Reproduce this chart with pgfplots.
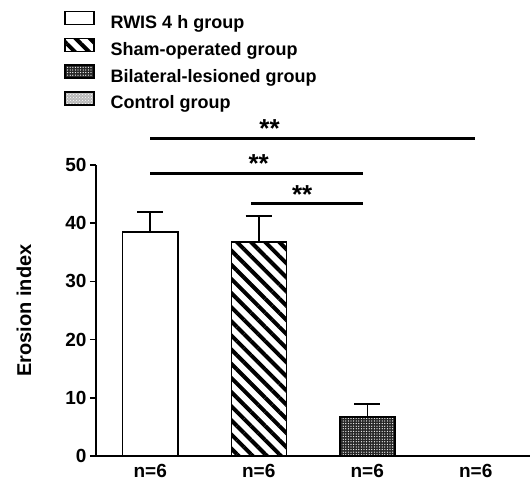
\documentclass[border=0pt]{standalone}
\usepackage{fontspec}
\setmainfont{Liberation Sans}
\usepackage{pgfplots}
\pgfplotsset{compat=1.18}
\usetikzlibrary{patterns,patterns.meta}
\begin{document}
\begin{tikzpicture}
\path[use as bounding box] (-96pt,-30pt) rectangle (434pt,456pt);
\begin{axis}[
  at={(0pt,0pt)}, anchor=south west,
  scale only axis, width=434pt, height=291pt,
  xmin=-0.5, xmax=3.5, ymin=0, ymax=50,
  axis lines=left, axis line style={line width=1.6pt, -},
  xtick={0,1,2,3}, xticklabels={n=6,n=6,n=6,n=6},
  x tick style={draw=none},
  ytick={0,10,20,30,40,50},
  y tick style={line width=1.6pt, black}, tick align=outside, major tick length=6pt,
  /pgf/number format/assume math mode=true,
  tick label style={font=\fontsize{19}{21}\selectfont\bfseries},
  xticklabel style={yshift=1pt},
  ylabel={Erosion index},
  ylabel style={font=\fontsize{20}{22}\selectfont\bfseries, at={(axis description cs:-0.166,0.5)}, anchor=center},
  clip=false,
  legend cell align=left,
  legend style={draw=none, fill=none, at={(axis description cs:-0.074,1.53)}, anchor=north west,
    font=\fontsize{18}{20}\selectfont\bfseries, row sep=5pt, inner sep=0pt, column sep=0pt,
    /tikz/every odd column/.style={column sep=16pt},
    nodes={inner sep=0pt, text height=13pt, text depth=4pt}},
  legend image code/.code={\draw[#1,line width=1.5pt] (0pt,-0.5pt) rectangle (29pt,12.5pt);},
]
\addplot[ybar, bar width=55pt, bar shift=0pt, draw=black, line width=1.5pt, fill=white,
  error bars/.cd, y dir=plus, y explicit, error mark=|,
  error bar style={line width=1.5pt, black}, error mark options={line width=1.5pt, mark size=13pt, black}]
  coordinates {(0,38.5) +- (0,3.4)};
\addlegendentry{RWIS 4 h group}
\addplot[ybar, bar width=55pt, bar shift=0pt, draw=black, line width=1.5pt,
  pattern={Lines[angle=-45, distance=10pt, line width=4pt]}, pattern color=black,
  error bars/.cd, y dir=plus, y explicit, error mark=|,
  error bar style={line width=1.5pt, black}, error mark options={line width=1.5pt, mark size=13pt, black}]
  coordinates {(1,36.8) +- (0,4.4)};
\addlegendentry{Sham-operated group}
\addplot[ybar, bar width=55pt, bar shift=0pt, draw=black, line width=1.5pt,
  preaction={fill=black!85}, pattern={Dots[distance=2.6pt, radius=0.65pt]}, pattern color=white,
  error bars/.cd, y dir=plus, y explicit, error mark=|,
  error bar style={line width=1.5pt, black}, error mark options={line width=1.5pt, mark size=13pt, black}]
  coordinates {(2,6.7) +- (0,2.2)};
\addlegendentry{Bilateral-lesioned group}
\addlegendimage{draw=black, line width=1.5pt, preaction={fill=gray!55}, pattern=crosshatch dots, pattern color=white}
\addlegendentry{Control group}
% significance lines
\addplot[black, line width=3pt, forget plot] coordinates {(0,54.6) (2.99,54.6)};
\addplot[black, line width=3pt, forget plot] coordinates {(0,48.6) (1.96,48.6)};
\addplot[black, line width=3pt, forget plot] coordinates {(0.93,43.3) (1.96,43.3)};
\node[font=\fontsize{26}{28}\selectfont\bfseries] at (axis cs:1.1,56.2) {**};
\node[font=\fontsize{26}{28}\selectfont\bfseries] at (axis cs:1.0,50.2) {**};
\node[font=\fontsize{26}{28}\selectfont\bfseries] at (axis cs:1.4,44.9) {**};
\end{axis}
\end{tikzpicture}
\end{document}
